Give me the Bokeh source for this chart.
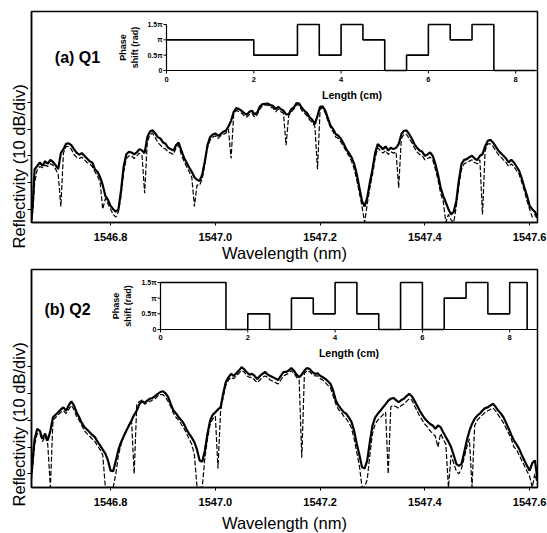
import math
from bokeh.plotting import figure
from bokeh.layouts import column
from bokeh.models import Range1d, FixedTicker, PrintfTickFormatter, Title
from bokeh.core.properties import value
from bokeh.embed import file_html
from bokeh.resources import INLINE

FONT = "Liberation Sans"

# ---------------- data ----------------
wavelength_nm = [
    1546.649, 1546.652, 1546.655,
    1546.660, 1546.665, 1546.670, 1546.675, 1546.680, 1546.685, 1546.690, 1546.695, 1546.700, 1546.705,
    1546.710, 1546.715, 1546.720, 1546.725, 1546.730, 1546.735, 1546.740, 1546.745, 1546.750, 1546.755,
    1546.760, 1546.765, 1546.770, 1546.775, 1546.780, 1546.785, 1546.790, 1546.795, 1546.800, 1546.805,
    1546.810, 1546.815, 1546.820, 1546.825, 1546.830, 1546.835, 1546.840, 1546.845, 1546.850, 1546.855,
    1546.860, 1546.865, 1546.870, 1546.875, 1546.880, 1546.885, 1546.890, 1546.895, 1546.900, 1546.905,
    1546.910, 1546.915, 1546.920, 1546.925, 1546.930, 1546.935, 1546.940, 1546.945, 1546.950, 1546.955,
    1546.960, 1546.965, 1546.970, 1546.975, 1546.980, 1546.985, 1546.990, 1546.995, 1547.000, 1547.005,
    1547.010, 1547.015, 1547.020, 1547.025, 1547.030, 1547.035, 1547.040, 1547.045, 1547.050, 1547.055,
    1547.060, 1547.065, 1547.070, 1547.075, 1547.080, 1547.085, 1547.090, 1547.095, 1547.100, 1547.105,
    1547.110, 1547.115, 1547.120, 1547.125, 1547.130, 1547.135, 1547.140, 1547.145, 1547.150, 1547.155,
    1547.160, 1547.165, 1547.170, 1547.175, 1547.180, 1547.185, 1547.190, 1547.195, 1547.200, 1547.205,
    1547.210, 1547.215, 1547.220, 1547.225, 1547.230, 1547.235, 1547.240, 1547.245, 1547.250, 1547.255,
    1547.260, 1547.265, 1547.270, 1547.275, 1547.280, 1547.285, 1547.290, 1547.295, 1547.300, 1547.305,
    1547.310, 1547.315, 1547.320, 1547.325, 1547.330, 1547.335, 1547.340, 1547.345, 1547.350, 1547.355,
    1547.360, 1547.365, 1547.370, 1547.375, 1547.380, 1547.385, 1547.390, 1547.395, 1547.400, 1547.405,
    1547.410, 1547.415, 1547.420, 1547.425, 1547.430, 1547.435, 1547.440, 1547.445, 1547.450, 1547.455,
    1547.460, 1547.465, 1547.470, 1547.475, 1547.480, 1547.485, 1547.490, 1547.495, 1547.500, 1547.505,
    1547.510, 1547.515, 1547.520, 1547.525, 1547.530, 1547.535, 1547.540, 1547.545, 1547.550, 1547.555,
    1547.560, 1547.565, 1547.570, 1547.575, 1547.580, 1547.585, 1547.590, 1547.595, 1547.600, 1547.605,
    1547.610, 1547.615,
]

# (a) Q1 reflectivity, dB relative to the top tick
q1_solid_db = [
    -44, -36, -25,
    -23.8, -22.5, -23.8, -22, -23, -21.5, -22.3, -23.5, -25, -19,
    -17.5, -15.5, -15.3, -16, -17.5, -18.8, -19.6, -19, -20, -21,
    -22, -22.5, -25, -26, -28, -31, -35, -36.5, -38.75, -40,
    -41, -40, -33, -24, -19.4, -18.5, -18.75, -19.5, -18.75, -17.5,
    -18, -19, -13, -11, -10.4, -11.5, -13, -13.5, -15, -15.5,
    -17, -17.5, -18, -16, -15, -18, -20.6, -22.5, -24.4, -26,
    -28, -29, -29.4, -27, -22, -16, -13, -12, -11.6, -12.5,
    -11.9, -11, -10.6, -9, -6.9, -3.5, -2.1, -2.5, -3.1, -4,
    -4.6, -3.5, -3.1, -4.5, -3.75, -1.5, -0.6, -0.5, -0.4, -1,
    -1.25, -2.5, -1.6, -2.5, -3.1, -4.5, -4.4, -2.5, -1.9, -0.2,
    -0.4, -2, -3.1, -4, -5.6, -6.5, -8.1, -5, -1.6, -1.5,
    -3.1, -6, -8.75, -10, -11.9, -12.5, -13.75, -15.5, -17.5, -19,
    -20.6, -23, -26.9, -32, -36.9, -39, -35.6, -30, -25, -19,
    -15.6, -16.5, -17.5, -16.5, -18, -17, -17.5, -17, -15.6, -12,
    -10.6, -10.5, -11.9, -13.5, -15.6, -17, -18, -18.5, -20, -19.5,
    -18.75, -20, -23, -27, -31.9, -35, -37.5, -40, -42, -41,
    -36.9, -29, -23, -21.5, -21.25, -20.5, -20, -21, -21.6, -20,
    -19.4, -16.5, -14.4, -14, -15, -16.5, -18, -19, -20, -21,
    -22.5, -21.5, -22.5, -24, -25.6, -28.5, -31.9, -35, -38.75, -40,
    -41, -43,
]
q1_dashed_db = [
    -45, -40, -30,
    -25, -24, -24.5, -23.5, -24, -23, -23.5, -25, -27, -39,
    -19, -16.5, -16.5, -17.5, -19.5, -20.5, -21, -20.5, -21.5, -22.5,
    -23, -24, -26, -27.5, -30, -40, -36, -38, -40, -42,
    -43, -41, -35, -26, -21, -20, -20, -21, -20, -19,
    -20, -34, -15, -12, -11.5, -13, -15, -16, -17, -17.5,
    -18.5, -19, -19.5, -17, -16, -19.5, -22, -24, -26, -28,
    -39, -31, -31, -28.5, -23, -17, -14, -13, -12.5, -13.5,
    -12.5, -12, -11.5, -10, -21, -4.5, -3, -3.5, -4, -5,
    -5.5, -4.5, -4, -5.5, -4.5, -2.5, -1.2, -1, -1, -1.8,
    -2, -3.5, -2.5, -3.5, -4, -16, -5, -3.5, -2.5, -0.8,
    -1, -3, -4, -5, -6.5, -7.5, -9, -25, -2.5, -2,
    -4, -7, -9.5, -11, -13, -13.5, -15, -16.5, -18.5, -20,
    -22, -25, -29, -34, -39, -45, -38, -32, -27, -21,
    -17, -18, -19, -18, -19.5, -18.5, -19, -18.5, -32, -13.5,
    -12, -12, -13.5, -15, -17, -18.5, -19.5, -20, -21.5, -21,
    -20.5, -21.5, -25, -29, -34, -37, -45, -42, -44, -45,
    -39, -31, -25, -23, -22.5, -22, -21.5, -22.5, -23, -21.5,
    -42, -18, -15.5, -15.5, -16.5, -18, -19.5, -20.5, -21.5, -22.5,
    -24, -23, -24, -25.5, -27, -30, -33, -37, -40, -43,
    -42, -44,
]

# (b) Q2 reflectivity
q2_solid_db = [
    -40, -33, -27,
    -23.2, -24, -27, -25, -27.6, -24, -18.9, -18, -17, -16,
    -15.2, -16.5, -14.5, -13, -14.5, -17, -18.9, -21, -22.6, -23.5,
    -24.5, -25.5, -26.3, -28, -29.4, -31, -32.5, -35, -38.8, -39,
    -35, -31, -28.2, -26, -23.9, -22, -20.1, -18, -16.4, -14,
    -12.9, -13.5, -12.7, -12, -11.7, -11, -10.2, -9.5, -9.2, -10,
    -11.4, -14, -16.4, -17.5, -18.9, -20, -21.4, -23.5, -25.1, -26.5,
    -28.2, -31, -35, -35.5, -31.3, -25, -20.1, -18, -17, -16,
    -15.2, -10, -5.8, -4, -2.7, -3.5, -2.5, -1.5, -0.2, -1,
    -2.1, -3, -2.7, -3.5, -4.6, -3.5, -2.7, -2, -3, -3.5,
    -4, -4.5, -5, -3.5, -2.1, -2, -1.5, -0.5, -1.5, -3,
    -4, -3, -1.5, -0.5, -0.9, -2, -2.7, -2.5, -3.4, -4,
    -4.6, -5.5, -6.5, -9, -12.7, -14.5, -15.8, -17, -17.6, -19,
    -20.7, -24, -28.8, -33, -37.5, -38, -35, -28, -22, -19,
    -17.6, -16.5, -15.2, -14, -12.7, -12, -11.7, -12.5, -13.3, -12.5,
    -12, -11, -10.2, -11, -12.7, -14.5, -16.4, -18, -19.5, -20.5,
    -21.4, -22, -23.2, -22, -22.6, -24.5, -26.3, -28, -30, -33,
    -36.3, -37, -36.3, -32, -27.6, -24, -21.4, -19.5, -18.3, -17.5,
    -16.4, -15.5, -15.2, -14.5, -13.9, -15, -16.4, -17.5, -18.9, -21,
    -23.2, -25.5, -27.6, -29, -30.7, -33, -35, -37, -38.8, -36,
    -35, -42,
]
q2_dashed_db = [
    -42, -36, -29,
    -25, -25, -28, -26, -29, -45, -20, -19, -18, -17,
    -16.5, -17.5, -16, -14.5, -16, -18.5, -20, -22, -24, -25,
    -26, -27, -28, -29.5, -31, -33, -45, -45, -45, -45,
    -40, -33, -29, -26, -24, -22, -20, -40, -14, -13,
    -12.5, -14, -13.5, -13, -12.5, -12, -11, -10.5, -10.5, -11.5,
    -13, -15, -17.5, -19, -20, -21.5, -23, -25, -27, -29,
    -33, -45, -45, -45, -34, -27, -21.5, -19.5, -18.5, -38,
    -16.5, -11.5, -7, -5, -4, -4.5, -3.5, -2.5, -1.5, -2,
    -3.5, -4, -4, -5, -6, -5, -4, -3.5, -4, -5,
    -5.5, -6, -6.5, -5, -3.5, -3, -2.5, -1.5, -2.5, -4,
    -5, -34, -2.5, -1.5, -2, -3, -3.5, -3.5, -4.5, -5,
    -6, -7, -8, -11, -14, -16, -17, -18.5, -19.5, -21,
    -23, -27, -32, -37, -45, -45, -42, -33, -25, -21.5,
    -20, -19, -18, -17, -40, -15, -14.5, -15, -15.5, -14.5,
    -14, -13, -12, -12.5, -14.5, -16.5, -18.5, -20, -21.5, -22.5,
    -24, -25, -26, -30, -25, -27, -29, -45, -33, -36,
    -39, -40, -38, -34, -30, -27, -45, -22, -20, -19,
    -18, -17, -16.5, -16, -15.5, -16.5, -18, -19.5, -21, -23,
    -25, -27, -30, -31, -33, -35, -37, -39, -41, -45,
    -40, -44,
]

wl_ticks = [1546.8, 1547.0, 1547.2, 1547.4, 1547.6]
refl_ticks = [0, -10, -20, -30, -40]

# insets: phase shift (units of pi) vs length (cm)
q1_length_cm = [0, 2, 3, 3.5, 4, 4.5, 5, 5.5, 6, 6.5, 7, 7.5, 8.45]
q1_phase_pi = [1, 0.5, 1.5, 0.5, 1.5, 1, 0, 0.5, 1.5, 1, 1.5, 0, 0]
q2_length_cm = [0, 1.5, 2, 2.5, 3, 3.5, 4, 4.5, 5, 5.5, 6, 6.5, 7, 7.5, 8, 8.4]
q2_phase_pi = [1.5, 0, 0.5, 0, 1, 0.5, 1.5, 0.5, 0, 1.5, 0, 1, 1.5, 0.5, 1.5, 0]
length_ticks = [0, 2, 4, 6, 8]
phase_ticks = [0, 0.5, 1, 1.5]
phase_tick_labels = ["0", "0.5\u03c0", "\u03c0", "1.5\u03c0"]

for s in (q1_solid_db, q1_dashed_db, q2_solid_db, q2_dashed_db):
    assert len(s) == len(wavelength_nm), (len(s), len(wavelength_nm))


def make_panel(tag, solid, dashed, yr, ins_xr, ins_yr, ins_len, ins_phase,
               frame_h, top_border, xlab_standoff, tag_off, ylab_offset):
    p = figure(frame_width=506, frame_height=frame_h,
               x_range=Range1d(1546.649, 1547.615), y_range=Range1d(*yr),
               output_backend="svg", toolbar_location=None,
               min_border_left=31, min_border_right=10,
               min_border_top=top_border, min_border_bottom=0)
    p.grid.visible = False
    p.background_fill_color = "white"
    p.border_fill_color = "white"
    p.outline_line_color = "black"
    p.outline_line_width = 1.5
    p.outline_line_alpha = 1.0

    xa = p.xaxis[0]
    xa.ticker = FixedTicker(ticks=wl_ticks)
    xa.formatter = PrintfTickFormatter(format="%.1f")
    xa.major_tick_out = 3
    xa.major_tick_in = 0
    xa.minor_tick_out = 0
    xa.minor_tick_in = 0
    xa.major_label_standoff = 7
    xa.major_label_text_font = FONT
    xa.major_label_text_font_style = "bold"
    xa.major_label_text_font_size = "11px"
    xa.major_label_text_color = "black"
    xa.axis_line_color = "black"
    xa.axis_line_width = 1.5
    xa.axis_label = "Wavelength (nm)"
    xa.axis_label_text_font = FONT
    xa.axis_label_text_font_style = "normal"
    xa.axis_label_text_font_size = "16.5px"
    xa.axis_label_text_color = "black"
    xa.axis_label_standoff = xlab_standoff

    ya = p.yaxis[0]
    ya.ticker = FixedTicker(ticks=refl_ticks)
    ya.major_tick_out = 4
    ya.major_tick_in = 0
    ya.minor_tick_out = 0
    ya.minor_tick_in = 0
    ya.major_label_overrides = {t: "" for t in refl_ticks}
    ya.major_label_standoff = 0
    ya.axis_line_color = "black"
    ya.axis_line_width = 1.5

    # y label: starts below the frame bottom, as in the original
    p.add_layout(Title(text="Reflectivity (10 dB/div)", align="left",
                       offset=ylab_offset, standoff=0, text_font=FONT,
                       text_font_size="16.5px", text_font_style="normal",
                       text_color="black"), "left")

    # spectra
    p.line(wavelength_nm, solid, line_color="black", line_width=2.2)
    p.line(wavelength_nm, dashed, line_color="black", line_width=1.2,
           line_dash="5 2")

    # inset in its own ranges
    p.extra_x_ranges = {"len": Range1d(*ins_xr)}
    p.extra_y_ranges = {"ph": Range1d(*ins_yr)}
    kw = dict(x_range_name="len", y_range_name="ph")
    p.step(ins_len, ins_phase, mode="after", line_color="black",
           line_width=1.6, **kw)
    # inset axes
    p.segment(x0=[length_ticks[0]], y0=[phase_ticks[0]],
              x1=[length_ticks[0]], y1=[phase_ticks[-1]],
              line_color="black", line_width=1.2, **kw)
    p.segment(x0=[length_ticks[0]], y0=[phase_ticks[0]],
              x1=[ins_xr[1]], y1=[phase_ticks[0]],
              line_color="black", line_width=1.2, **kw)
    p.ray(x=[length_ticks[0]] * len(phase_ticks), y=phase_ticks, length=3,
          length_units="screen", angle=math.pi, line_color="black",
          line_width=1, **kw)
    p.ray(x=length_ticks, y=[phase_ticks[0]] * len(length_ticks), length=3,
          length_units="screen", angle=-math.pi / 2, line_color="black",
          line_width=1, **kw)
    p.text(x=[length_ticks[0]] * len(phase_ticks), y=phase_ticks,
           text=phase_tick_labels, x_offset=-4, text_align="right",
           text_baseline="middle", text_font=value(FONT),
           text_font_style="bold", text_font_size="7px", text_color="black",
           **kw)
    p.text(x=length_ticks, y=[phase_ticks[0]] * len(length_ticks),
           text=[str(t) for t in length_ticks], y_offset=6,
           text_align="center", text_baseline="top", text_font=value(FONT),
           text_font_style="bold", text_font_size="7.5px", text_color="black",
           **kw)
    p.text(x=[(length_ticks[0] + ins_xr[1]) / 2], y=[phase_ticks[0]],
           text=["Length (cm)"], y_offset=24, text_align="center",
           text_baseline="middle", text_font=value(FONT),
           text_font_style="bold", text_font_size="10.5px", text_color="black",
           **kw)
    p.text(x=[length_ticks[0]], y=[(phase_ticks[0] + phase_ticks[-1]) / 2],
           text=["Phase\nshift (rad)"], x_offset=-38, angle=math.pi / 2,
           text_align="center", text_baseline="middle", text_font=value(FONT),
           text_font_style="bold", text_font_size="9px", text_color="black",
           **kw)
    p.text(x=[length_ticks[0]], y=[phase_ticks[0]], text=[tag],
           x_offset=tag_off[0], y_offset=tag_off[1], text_align="center",
           text_baseline="middle", text_font=value(FONT),
           text_font_style="bold", text_font_size="16px", text_color="black",
           **kw)
    return p


pa = make_panel("(a) Q1", q1_solid_db, q1_dashed_db, (-45.0, 34.1),
                (-3.093, 8.5), (-4.956, 1.924), q1_length_cm, q1_phase_pi,
                211, 11, 0, (-89, -13), -26)
pb = make_panel("(b) Q2", q2_solid_db, q2_dashed_db, (-45.1, 36.2),
                (-2.955, 8.637), (-5.043, 1.915), q2_length_cm, q2_phase_pi,
                218, 5, 5, (-93, -20), -19)

layout = column(pa, pb)
html = file_html(layout, INLINE)
html = html.replace("<head>", "<head><style>html,body{overflow:hidden;}</style>", 1)
open("out.html", "w").write(html)
